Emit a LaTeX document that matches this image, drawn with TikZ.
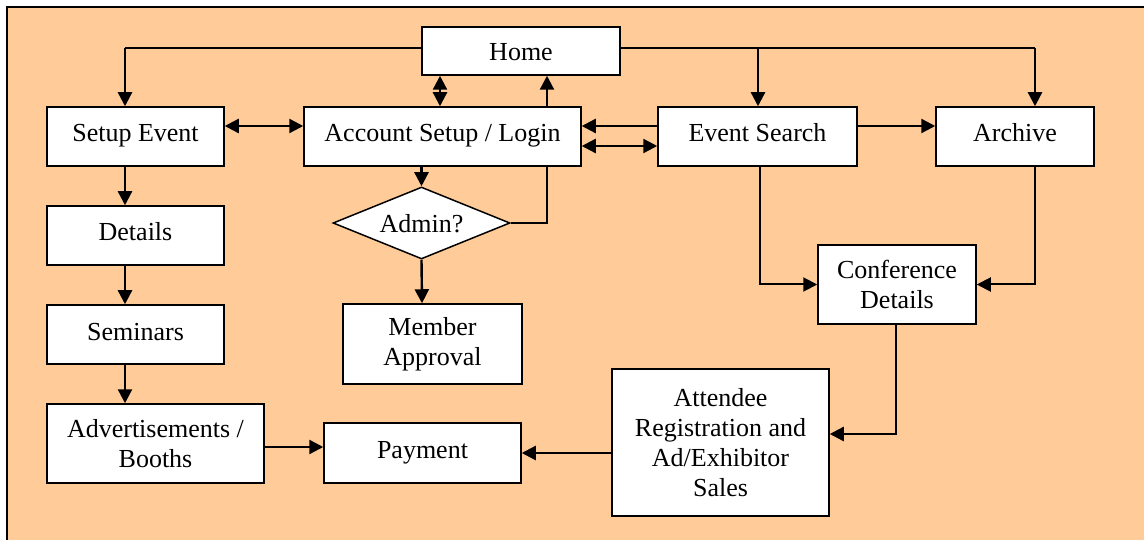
\documentclass[tikz,border=0pt]{standalone}
\usepackage{fontspec}
\setmainfont{Liberation Serif}
\usetikzlibrary{arrows.meta,shapes.geometric}
\definecolor{bgc}{RGB}{255,204,153}
\tikzset{
  Tri/.tip={Triangle[length=14pt,width=14pt]},
  box/.style={draw=black, fill=white, line width=1.5pt, inner sep=0pt, align=center,
    font=\fontsize{26}{30}\selectfont},
  one/.style={text height=17pt, text depth=6pt},
  low/.style={text height=25pt, text depth=6pt},
  arr/.style={line width=2.4pt, -Tri},
  darr/.style={line width=2.4pt, Tri-Tri},
  thinline/.style={line width=2pt},
}
\begin{document}
\begin{tikzpicture}[x=1pt,y=-1pt]
\useasboundingbox (0,0) rectangle (1144,540);
\fill[bgc] (7,7) rectangle (1144,540);
\draw[line width=1.5pt] (7,540) -- (7,7) -- (1144,7);

% nodes
\node[box, low, minimum width=198pt, minimum height=48pt] (home) at (521,51) {Home};
\node[box, one, minimum width=177pt, minimum height=59pt] (setup) at (135.5,136.5) {Setup Event};
\node[box, one, minimum width=277pt, minimum height=59pt] (account) at (442.5,136.5) {Account Setup / Login};
\node[box, one, minimum width=199pt, minimum height=59pt] (search) at (757.5,136.5) {Event Search};
\node[box, one, minimum width=158pt, minimum height=59pt] (archive) at (1015,136.5) {Archive};
\node[box, one, minimum width=177pt, minimum height=59pt] (details) at (135.5,235.5) {Details};
\node[box, one, minimum width=177pt, minimum height=59pt] (seminars) at (135.5,334.5) {Seminars};
\node[box, minimum width=217pt, minimum height=79pt] (adv) at (155.5,443.5) {Advertisements /\\Booths};
\node[box, one, minimum width=197pt, minimum height=60pt] (payment) at (422.5,453) {Payment};
\node[box, minimum width=217pt, minimum height=147pt] (attendee) at (720.5,442.5) {Attendee\\Registration and\\Ad/Exhibitor\\Sales};
\node[box, minimum width=158pt, minimum height=79pt] (conf) at (897,284.5) {Conference\\Details};
\node[box, minimum width=179pt, minimum height=80pt] (member) at (432.5,344) {Member\\Approval};
\node[box, low, diamond, shape aspect=2.46, minimum width=177pt, minimum height=72pt] (adm) at (421.5,223) {Admin?};

% coordinates
\coordinate (hl) at (125,48);
\coordinate (hr1) at (758,48);
\coordinate (hr2) at (1035,48);
\coordinate (cA) at (440,0);
\coordinate (cB) at (547,0);
\coordinate (y1) at (0,126);
\coordinate (y2) at (0,146);
\coordinate (xs) at (125,0);
\coordinate (ya) at (0,447);
\coordinate (xm) at (422,0);
\coordinate (xe) at (760,0);
\coordinate (xc) at (896,0);
\coordinate (yc) at (0,434);

% Home connections
\draw[thinline] (home.west |- hl) -- (hl);
\draw[arr] (hl) -- (setup.north -| hl);
\draw[thinline] (home.east |- hr1) -- (hr2);
\draw[arr] (hr1) -- (search.north -| hr1);
\draw[arr] (hr2) -- (archive.north -| hr2);
\draw[darr] (home.south -| cA) -- (account.north -| cA);
\draw[arr] (account.north -| cB) -- (home.south -| cB);

% horizontal row
\draw[darr] (setup.east |- y1) -- (account.west |- y1);
\draw[arr] (search.west |- y1) -- (account.east |- y1);
\draw[darr] (account.east |- y2) -- (search.west |- y2);
\draw[arr] (search.east |- y1) -- (archive.west |- y1);

% admin
\draw[arr] (account.south -| adm.north) -- (adm.north);
\draw[thinline] (adm.east) -| (account.south -| cB);
\draw[arr] (adm.south) -- (member.north -| xm);

% left column
\draw[arr] (setup.south -| xs) -- (details.north -| xs);
\draw[arr] (details.south -| xs) -- (seminars.north -| xs);
\draw[arr] (seminars.south -| xs) -- (adv.north -| xs);
\draw[arr] (adv.east |- ya) -- (payment.west |- ya);
\draw[arr] (attendee.west |- payment.east) -- (payment.east);

% right side
\draw[thinline, -Tri] (search.south -| xe) |- (conf.west);
\draw[thinline, -Tri] (archive.south -| hr2) |- (conf.east);
\draw[arr] (conf.south -| xc) |- (attendee.east |- yc);
\end{tikzpicture}
\end{document}
